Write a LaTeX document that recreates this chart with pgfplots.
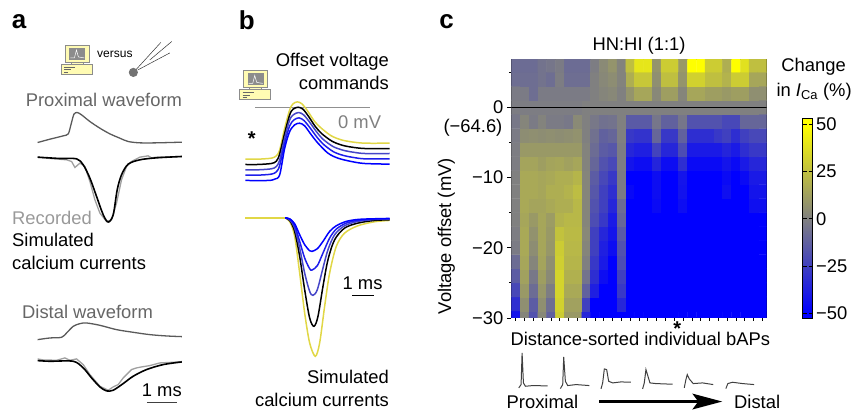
\documentclass[border=0pt]{standalone}
\usepackage{fontspec}
\setmainfont{Liberation Sans}
\usepackage{pgfplots}
\pgfplotsset{compat=1.18}
\newcommand{\fs}{\fontsize{18.4}{21}\selectfont}
\definecolor{wave}{RGB}{90,90,90}
\definecolor{rec}{RGB}{160,160,160}
\definecolor{yel}{RGB}{225,215,70}
\definecolor{db}{RGB}{70,70,200}
\definecolor{mb}{RGB}{30,30,235}
\definecolor{bb}{RGB}{0,0,255}
\pgfplotsset{
 zoomaxis/.style={scale only axis,hide axis,y dir=reverse,clip=false,
   axis line style={draw=none},tension=0.5},
}
\newcommand{\compicon}[2]{%
 \begin{scope}[shift={(#1,#2)}]
  \draw[draw=black!45,fill=yellow!30!white,line width=0.5pt] (0,19) rectangle (31,29);
  \draw[draw=black!45,fill=yellow!25!white,line width=0.5pt] (10,16) rectangle (22,19);
  \draw[draw=black!45,fill=yellow!30!white,line width=0.7pt] (4,0) rectangle (28,17);
  \fill[black!45] (8,3) rectangle (24,15);
  \draw[white,line width=0.5pt] (9,13) -- (13,13) -- (15,5) -- (17,12) -- (23,13);
  \draw[black!60,line width=0.6pt] (3,22) -- (14,22);
  \draw[black!60,line width=0.6pt] (3,24.5) -- (10,24.5);
  \draw[black!60,line width=0.6pt] (3,27) -- (7,27);
 \end{scope}}
\begin{document}
\begin{tikzpicture}[x=1pt,y=1pt]
\path (0,0) rectangle (855,412);
% ---------- panel a, upper traces
\begin{axis}[zoomaxis,at={(0pt,132pt)},anchor=south west,width=220pt,height=280pt,
  xmin=0,xmax=660,ymin=0,ymax=840]
\addplot[wave,line width=1.3pt,smooth] coordinates {(113,428)(150,418)(190,408)(205,402)(213,375)(222,343)(232,338)(245,345)(270,365)(300,385)(330,402)(360,415)(385,425)(420,429)(470,429)(546,427)};
\addplot[rec,line width=1.3pt] coordinates {(113,472)(150,476)(200,480)(215,485)(225,503)(240,490)(255,500)(270,545)(285,600)(300,640)(320,665)(335,660)(350,610)(365,540)(380,500)(395,485)(420,472)(445,468)(455,474)(470,472)(546,470)};
\addplot[black,line width=1.6pt,smooth] coordinates {(113,472)(180,476)(230,477)(250,495)(270,535)(290,590)(310,645)(325,667)(340,645)(352,570)(365,525)(385,493)(420,480)(470,474)(546,470)};
\end{axis}
% ---------- panel a, lower traces
\begin{axis}[zoomaxis,at={(0pt,0pt)},anchor=south west,width=220pt,height=142pt,
  xmin=0,xmax=660,ymin=0,ymax=426]
\addplot[wave,line width=1.3pt,smooth] coordinates {(113,210)(150,205)(185,203)(200,190)(220,170)(240,162)(260,160)(300,167)(350,180)(400,188)(450,195)(500,199)(546,201)};
\addplot[rec,line width=1.3pt] coordinates {(113,268)(130,271)(170,272)(195,265)(210,272)(230,268)(250,285)(270,315)(300,350)(325,362)(340,352)(355,345)(370,325)(395,300)(410,295)(425,292)(450,288)(480,280)(520,278)(546,276)};
\addplot[black,line width=1.6pt,smooth] coordinates {(113,273)(150,275)(220,275)(250,295)(275,325)(300,352)(320,364)(340,362)(370,342)(400,320)(440,300)(490,285)(546,277)};
\end{axis}
% ---------- panel b, voltage commands
\begin{axis}[zoomaxis,at={(225pt,202pt)},anchor=south west,width=190pt,height=210pt,
  xmin=0,xmax=570,ymin=0,ymax=630]
\addplot[rec!90!black,line width=1.1pt] coordinates {(92,324)(435,324)};
\addplot[yel,line width=1.5pt,smooth] coordinates {(62,478)(100,478)(140,475)(155,468)(165,450)(180,385)(195,330)(205,312)(218,306)(232,312)(250,335)(270,365)(290,385)(320,408)(350,420)(380,426)(420,430)(495,430)};
\addplot[black,line width=1.5pt,smooth] coordinates {(62,494)(100,494)(140,491)(155,484)(165,462)(180,400)(195,345)(205,328)(220,322)(235,328)(252,350)(272,380)(292,402)(322,424)(352,436)(382,442)(420,446)(495,446)};
\addplot[db,line width=1.5pt,smooth] coordinates {(62,510)(100,510)(140,507)(155,500)(165,480)(180,415)(195,360)(207,344)(222,338)(237,345)(255,367)(275,395)(295,418)(325,440)(355,451)(385,457)(420,461)(495,461)};
\addplot[mb,line width=1.5pt,smooth] coordinates {(62,526)(100,526)(140,523)(155,516)(165,497)(180,430)(195,378)(208,360)(223,354)(238,362)(257,385)(277,412)(297,434)(327,456)(357,467)(387,473)(420,477)(495,477)};
\addplot[bb,line width=1.5pt,smooth] coordinates {(62,542)(130,542)(150,538)(165,525)(180,445)(195,395)(210,375)(225,370)(240,378)(260,405)(280,430)(310,460)(340,475)(380,485)(420,491)(495,493)};
\end{axis}
% ---------- panel b, simulated currents
\begin{axis}[zoomaxis,at={(225pt,0pt)},anchor=south west,width=190pt,height=212pt,
  xmin=0,xmax=570,ymin=0,ymax=636]
\addplot[yel,line width=1.5pt,smooth] coordinates {(180,54)(195,65)(210,110)(225,220)(240,340)(255,430)(272,470)(285,430)(300,320)(315,220)(335,140)(360,100)(400,78)(450,66)(495,62)};
\addplot[black,line width=1.5pt,smooth] coordinates {(180,54)(195,62)(210,95)(225,170)(240,270)(255,355)(268,380)(280,350)(295,260)(310,180)(330,120)(360,85)(400,70)(450,62)(495,60)};
\addplot[db,line width=1.5pt,smooth] coordinates {(180,54)(195,60)(210,85)(225,145)(240,220)(255,275)(265,287)(278,270)(295,205)(310,150)(330,105)(360,78)(400,65)(450,59)(495,58)};
\addplot[mb,line width=1.5pt,smooth] coordinates {(180,54)(195,58)(210,78)(225,125)(240,175)(255,207)(262,211)(278,198)(295,160)(315,115)(335,88)(365,70)(400,62)(450,58)(495,57)};
\addplot[bb,line width=1.5pt,smooth] coordinates {(180,54)(195,57)(210,72)(225,105)(240,135)(255,153)(262,155)(278,147)(295,125)(315,95)(335,78)(365,65)(400,59)(450,57)(495,56)};
\addplot[yel,line width=1.5pt] coordinates {(62,54)(180,54)};
\end{axis}
% ---------- panel c, heat map
\begin{axis}[at={(512pt,93.7pt)},anchor=south west,scale only axis,width=255.5pt,height=258.8pt,
  xmin=0.5,xmax=29.5,ymin=-30,ymax=6.8,
  colormap={byg}{rgb255(0pt)=(0,0,255) rgb255(3pt)=(0,0,255) rgb255(53pt)=(128,128,128) rgb255(103pt)=(255,255,0) rgb255(106pt)=(255,255,0)},
  point meta min=-53,point meta max=53,
  axis line style={black,line width=0.9pt},
  tick align=outside,tick pos=left,
  tick style={black,line width=0.7pt},
  major tick length=4.5pt,minor tick length=2.5pt,
  xtick style={/pgfplots/major tick length=2.8pt},
  xtick={1,2,...,29},xticklabels={},
  ytick={0,-10,-20,-30},yticklabels={0,−10,−20,−30},
  minor ytick={5,-5,-15,-25},
  tick label style={font=\fs},
  ylabel={Voltage offset (mV)},ylabel style={font=\fs,at={(axis description cs:-0.2545,0.316)},anchor=center},
  title={HN:HI (1:1)},title style={font=\fs,yshift=-4pt},
  colorbar,
  colorbar style={at={(parent axis.south east)},anchor=south west,xshift=27.5pt,yshift=-0.7pt,
     scale only axis,width=10pt,height=200pt,
     ytick={-50,-25,0,25,50},yticklabels={−50,−25,0,25,50},yticklabel pos=right,
     major tick length=4pt,tick style={black,line width=0.7pt},
     tick label style={font=\fs},axis line style={black,line width=0.8pt}},
]
\addplot[matrix plot*,mesh/cols=29,point meta=explicit] coordinates {
(1,-30)[-42](2,-30)[2](3,-30)[-18](4,-30)[3](5,-30)[-12](6,-30)[30](7,-30)[10](8,-30)[10](9,-30)[-35](10,-30)[-50](11,-30)[-50](12,-30)[-50](13,-30)[-50](14,-30)[-50](15,-30)[-50](16,-30)[-50](17,-30)[-50](18,-30)[-50](19,-30)[-50](20,-30)[-50](21,-30)[-50](22,-30)[-50](23,-30)[-50](24,-30)[-50](25,-30)[-50](26,-30)[-50](27,-30)[-50](28,-30)[-50](29,-30)[-50]
(1,-28)[-32](2,-28)[6](3,-28)[-14](4,-28)[6](5,-28)[-7](6,-28)[32](7,-28)[13](8,-28)[13](9,-28)[-25](10,-28)[-50](11,-28)[-50](12,-28)[-50](13,-28)[-35](14,-28)[-50](15,-28)[-50](16,-28)[-50](17,-28)[-50](18,-28)[-50](19,-28)[-50](20,-28)[-50](21,-28)[-50](22,-28)[-50](23,-28)[-50](24,-28)[-50](25,-28)[-50](26,-28)[-50](27,-28)[-50](28,-28)[-50](29,-28)[-50]
(1,-26)[-22](2,-26)[10](3,-26)[-8](4,-26)[9](5,-26)[-1](6,-26)[33](7,-26)[16](8,-26)[16](9,-26)[-12](10,-26)[-38](11,-26)[-50](12,-26)[-50](13,-26)[-28](14,-26)[-50](15,-26)[-50](16,-26)[-50](17,-26)[-50](18,-26)[-50](19,-26)[-50](20,-26)[-50](21,-26)[-50](22,-26)[-50](23,-26)[-50](24,-26)[-50](25,-26)[-50](26,-26)[-50](27,-26)[-50](28,-26)[-50](29,-26)[-50]
(1,-24)[-14](2,-24)[13](3,-24)[-3](4,-24)[12](5,-24)[4](6,-24)[33](7,-24)[19](8,-24)[19](9,-24)[-5](10,-24)[-32](11,-24)[-45](12,-24)[-50](13,-24)[-25](14,-24)[-50](15,-24)[-50](16,-24)[-50](17,-24)[-50](18,-24)[-50](19,-24)[-50](20,-24)[-50](21,-24)[-50](22,-24)[-50](23,-24)[-50](24,-24)[-50](25,-24)[-50](26,-24)[-50](27,-24)[-50](28,-24)[-50](29,-24)[-50]
(1,-22)[-8](2,-22)[15](3,-22)[2](4,-22)[14](5,-22)[6](6,-22)[31](7,-22)[21](8,-22)[21](9,-22)[0](10,-22)[-28](11,-22)[-40](12,-22)[-50](13,-22)[-20](14,-22)[-50](15,-22)[-50](16,-22)[-50](17,-22)[-50](18,-22)[-50](19,-22)[-50](20,-22)[-50](21,-22)[-50](22,-22)[-50](23,-22)[-50](24,-22)[-50](25,-22)[-50](26,-22)[-50](27,-22)[-50](28,-22)[-50](29,-22)[-50]
(1,-20)[-2](2,-20)[16](3,-20)[5](4,-20)[15](5,-20)[9](6,-20)[30](7,-20)[22](8,-20)[22](9,-20)[2](10,-20)[-25](11,-20)[-38](12,-20)[-45](13,-20)[-18](14,-20)[-50](15,-20)[-50](16,-20)[-50](17,-20)[-50](18,-20)[-50](19,-20)[-50](20,-20)[-50](21,-20)[-50](22,-20)[-50](23,-20)[-50](24,-20)[-50](25,-20)[-50](26,-20)[-50](27,-20)[-50](28,-20)[-50](29,-20)[-50]
(1,-18)[-1](2,-18)[16](3,-18)[7](4,-18)[15](5,-18)[10](6,-18)[26](7,-18)[23](8,-18)[23](9,-18)[3](10,-18)[-25](11,-18)[-35](12,-18)[-42](13,-18)[-15](14,-18)[-50](15,-18)[-50](16,-18)[-50](17,-18)[-50](18,-18)[-50](19,-18)[-50](20,-18)[-50](21,-18)[-50](22,-18)[-50](23,-18)[-50](24,-18)[-50](25,-18)[-50](26,-18)[-50](27,-18)[-50](28,-18)[-50](29,-18)[-50]
(1,-16)[0](2,-16)[15](3,-16)[10](4,-16)[15](5,-16)[11](6,-16)[20](7,-16)[22](8,-16)[22](9,-16)[2](10,-16)[-20](11,-16)[-28](12,-16)[-40](13,-16)[-10](14,-16)[-50](15,-16)[-50](16,-16)[-50](17,-16)[-50](18,-16)[-50](19,-16)[-50](20,-16)[-50](21,-16)[-50](22,-16)[-50](23,-16)[-50](24,-16)[-50](25,-16)[-50](26,-16)[-50](27,-16)[-50](28,-16)[-50](29,-16)[-50]
(1,-14)[0](2,-14)[16](3,-14)[14](4,-14)[14](5,-14)[16](6,-14)[18](7,-14)[18](8,-14)[22](9,-14)[2](10,-14)[-18](11,-14)[-25](12,-14)[-35](13,-14)[-8](14,-14)[-50](15,-14)[-50](16,-14)[-50](17,-14)[-46](18,-14)[-50](19,-14)[-50](20,-14)[-45](21,-14)[-50](22,-14)[-50](23,-14)[-50](24,-14)[-50](25,-14)[-50](26,-14)[-50](27,-14)[-50](28,-14)[-44](29,-14)[-44]
(1,-12)[0](2,-12)[16](3,-12)[16](4,-12)[15](5,-12)[18](6,-12)[18](7,-12)[20](8,-12)[24](9,-12)[2](10,-12)[-16](11,-12)[-25](12,-12)[-32](13,-12)[-2](14,-12)[-47](15,-12)[-50](16,-12)[-50](17,-12)[-45](18,-12)[-50](19,-12)[-50](20,-12)[-43](21,-12)[-50](22,-12)[-50](23,-12)[-50](24,-12)[-50](25,-12)[-44](26,-12)[-50](27,-12)[-50](28,-12)[-42](29,-12)[-42]
(1,-10)[0](2,-10)[16](3,-10)[16](4,-10)[15](5,-10)[16](6,-10)[18](7,-10)[18](8,-10)[21](9,-10)[2](10,-10)[-14](11,-10)[-22](12,-10)[-28](13,-10)[-2](14,-10)[-50](15,-10)[-50](16,-10)[-50](17,-10)[-45](18,-10)[-50](19,-10)[-50](20,-10)[-42](21,-10)[-50](22,-10)[-50](23,-10)[-50](24,-10)[-50](25,-10)[-46](26,-10)[-50](27,-10)[-46](28,-10)[-40](29,-10)[-40]
(1,-8)[-1](2,-8)[14](3,-8)[14](4,-8)[12](5,-8)[14](6,-8)[15](7,-8)[13](8,-8)[15](9,-8)[1](10,-8)[-10](11,-8)[-18](12,-8)[-22](13,-8)[-1](14,-8)[-42](15,-8)[-45](16,-8)[-45](17,-8)[-36](18,-8)[-45](19,-8)[-45](20,-8)[-32](21,-8)[-46](22,-8)[-46](23,-8)[-46](24,-8)[-46](25,-8)[-42](26,-8)[-46](27,-8)[-40](28,-8)[-35](29,-8)[-35]
(1,-6)[-1](2,-6)[10](3,-6)[10](4,-6)[10](5,-6)[10](6,-6)[10](7,-6)[10](8,-6)[10](9,-6)[1](10,-6)[-8](11,-6)[-14](12,-6)[-16](13,-6)[-1](14,-6)[-35](15,-6)[-38](16,-6)[-38](17,-6)[-24](18,-6)[-35](19,-6)[-35](20,-6)[-20](21,-6)[-40](22,-6)[-40](23,-6)[-40](24,-6)[-40](25,-6)[-36](26,-6)[-40](27,-6)[-32](28,-6)[-28](29,-6)[-28]
(1,-4)[-2](2,-4)[5](3,-4)[6](4,-4)[5](5,-4)[6](6,-4)[5](7,-4)[6](8,-4)[7](9,-4)[0](10,-4)[-6](11,-4)[-12](12,-4)[-10](13,-4)[0](14,-4)[-28](15,-4)[-30](16,-4)[-30](17,-4)[-10](18,-4)[-28](19,-4)[-28](20,-4)[-12](21,-4)[-32](22,-4)[-32](23,-4)[-32](24,-4)[-28](25,-4)[-25](26,-4)[-32](27,-4)[-25](28,-4)[-22](29,-4)[-22]
(1,-2)[-3](2,-2)[2](3,-2)[-2](4,-2)[1](5,-2)[-2](6,-2)[-2](7,-2)[-3](8,-2)[4](9,-2)[0](10,-2)[-3](11,-2)[-6](12,-2)[-5](13,-2)[0](14,-2)[-15](15,-2)[-15](16,-2)[-15](17,-2)[-4](18,-2)[-12](19,-2)[-12](20,-2)[-4](21,-2)[-18](22,-2)[-18](23,-2)[-18](24,-2)[-18](25,-2)[-22](26,-2)[-22](27,-2)[-10](28,-2)[-10](29,-2)[-10]
(1,0)[-1](2,0)[-1](3,0)[-1](4,0)[-1](5,0)[-1](6,0)[-1](7,0)[-1](8,0)[-1](9,0)[0](10,0)[0](11,0)[0](12,0)[0](13,0)[0](14,0)[0](15,0)[0](16,0)[0](17,0)[0](18,0)[0](19,0)[0](20,0)[0](21,0)[0](22,0)[0](23,0)[0](24,0)[0](25,0)[0](26,0)[0](27,0)[0](28,0)[0](29,0)[0]
(1,2)[-2](2,2)[-2](3,2)[-7](4,2)[-2](5,2)[-2](6,2)[-2](7,2)[-2](8,2)[-2](9,2)[-2](10,2)[0](11,2)[2](12,2)[3](13,2)[0](14,2)[8](15,2)[15](16,2)[15](17,2)[3](18,2)[12](19,2)[12](20,2)[2](21,2)[15](22,2)[15](23,2)[12](24,2)[12](25,2)[10](26,2)[12](27,2)[12](28,2)[6](29,2)[6]
(1,4)[-7](2,4)[-7](3,4)[-7](4,4)[-5](5,4)[-7](6,4)[-1](7,4)[-7](8,4)[-7](9,4)[-7](10,4)[0](11,4)[3](12,4)[5](13,4)[1](14,4)[18](15,4)[28](16,4)[28](17,4)[6](18,4)[25](19,4)[25](20,4)[8](21,4)[32](22,4)[32](23,4)[25](24,4)[25](25,4)[20](26,4)[30](27,4)[30](28,4)[15](29,4)[15]
(1,6)[-8](2,6)[-8](3,6)[-8](4,6)[-5](5,6)[-4](6,6)[-2](7,6)[-8](8,6)[-8](9,6)[-8](10,6)[-1](11,6)[4](12,6)[8](13,6)[1](14,6)[25](15,6)[40](16,6)[40](17,6)[8](18,6)[30](19,6)[30](20,6)[10](21,6)[50](22,6)[50](23,6)[30](24,6)[30](25,6)[18](26,6)[50](27,6)[38](28,6)[25](29,6)[25]
};
\addplot[black,line width=1.1pt] coordinates {(0.5,0)(29.5,0)};
\end{axis}
% ---------- small bAP traces
\begin{axis}[zoomaxis,at={(490pt,0pt)},anchor=south west,width=290pt,height=92pt,
  xmin=0,xmax=870,ymin=0,ymax=276]
\addplot[black!75,line width=1pt] coordinates {(88,205)(95,195)(98,100)(102,190)(108,200)(130,198)(175,199)};
\addplot[black!75,line width=1pt] coordinates {(213,207)(220,195)(223,112)(228,185)(235,198)(260,195)(300,198)};
\addplot[black!75,line width=1pt] coordinates {(335,208)(340,190)(345,148)(352,150)(358,185)(370,190)(395,187)(425,188)};
\addplot[black!75,line width=1pt] coordinates {(460,208)(465,190)(470,150)(476,170)(482,190)(500,192)(550,194)};
\addplot[black!75,line width=1pt] coordinates {(585,205)(590,180)(594,165)(600,178)(612,192)(640,190)(672,195)};
\addplot[black!75,line width=1pt] coordinates {(710,207)(716,192)(730,188)(760,192)(795,195)};
\end{axis}
% ---------- annotations, in image pixels (y downward)
\begin{scope}[x=1pt,y=-1pt,yshift=412pt]
\node[font=\fontsize{26}{26}\selectfont\bfseries] at (19,22) {a};
\node[font=\fontsize{26}{26}\selectfont\bfseries] at (247,20) {b};
\node[font=\fontsize{26}{26}\selectfont\bfseries] at (447,22) {c};
\compicon{61.5}{45}
\compicon{240}{70.5}
\node[font=\fontsize{12}{13}\selectfont] at (115,54) {versus};
\draw[black!80,line width=0.5pt] (135,71) -- (161,42.5);
\draw[black!80,line width=0.5pt] (150,60) -- (172,41.5);
\draw[black!80,line width=0.5pt] (138,70) -- (170,53);
\fill[black!55] (133.5,72.5) circle (4.6);
\node[font=\fs,text=black!60] at (104,100) {Proximal waveform};
\node[font=\fs,text=black!60,anchor=west,inner sep=0pt] at (22,312) {Distal waveform};
\node[font=\fs,text=black!40,anchor=west,inner sep=0pt] at (12,218) {Recorded};
\node[font=\fs,anchor=west,inner sep=0pt] at (12,240) {Simulated};
\node[font=\fs,anchor=west,inner sep=0pt] at (12,263) {calcium currents};
\node[font=\fs] at (162,391) {1 ms};
\draw[black!75,line width=1.1pt] (147,402.5) -- (177,402.5);
\node[font=\fs,anchor=east,inner sep=0pt] at (389.5,61.5) {Offset voltage};
\node[font=\fs,anchor=east,inner sep=0pt] at (389.5,83.5) {commands};
\node[font=\fs,text=black!50] at (360,122.5) {0 mV};
\node[font=\fontsize{20}{20}\selectfont\bfseries,inner sep=0pt] at (252,139) {*};
\node[font=\fs] at (363,284) {1 ms};
\draw[black,line width=1pt] (352.5,295.5) -- (374,295.5);
\node[font=\fs,anchor=east,inner sep=0pt] at (389.5,377.5) {Simulated};
\node[font=\fs,anchor=east,inner sep=0pt] at (389.5,400) {calcium currents};
\node[font=\fs,inner sep=0pt] at (473.5,128) {(−64.6)};
\node[font=\fs,inner sep=0pt] at (641,339.5) {Distance-sorted individual bAPs};
\node[font=\fontsize{20}{20}\selectfont\bfseries,inner sep=0pt] at (678,328.5) {*};
\node[font=\fs] at (543,402) {Proximal};
\node[font=\fs] at (758,402) {Distal};
\draw[black,line width=3.2pt] (600,402) -- (700,402);
\fill[black] (693,394) -- (723,402) -- (693,410) -- (699,402) -- cycle;
\node[font=\fs] at (814.5,67) {Change};
\node[font=\fs] at (815,92) {in \textit{I}\textsubscript{Ca} (\%)};
\end{scope}
\end{tikzpicture}
\end{document}
